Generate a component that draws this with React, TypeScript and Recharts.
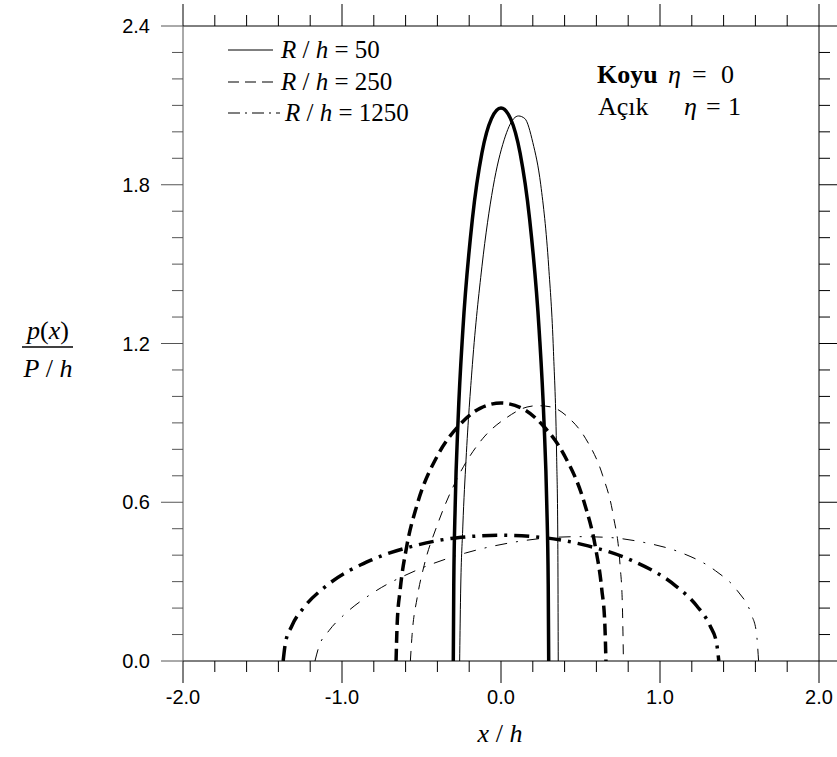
import React from "react";
import { Line, LineChart, XAxis, YAxis } from "recharts";

// tick positions
const xTicks = [-2.0, -1.8, -1.6, -1.4, -1.2, -1.0, -0.8, -0.6, -0.4, -0.2, 0.0, 0.2, 0.4, 0.6, 0.8, 1.0, 1.2, 1.4, 1.6, 1.8, 2.0];
const xMajor = [-2.0, -1.0, 0.0, 1.0, 2.0];
const yTicks = [0.0, 0.1, 0.2, 0.3, 0.4, 0.5, 0.6, 0.7, 0.8, 0.9, 1.0, 1.1, 1.2, 1.3, 1.4, 1.5, 1.6, 1.7, 1.8, 1.9, 2.0, 2.1, 2.2, 2.3, 2.4];
const yMajor = [0.0, 0.6, 1.2, 1.8, 2.4];

// R/h = 50
const thickSolid = [
  { x: -0.3, p: 0 }, { x: -0.297, p: 0.29 }, { x: -0.288, p: 0.59 }, { x: -0.27, p: 0.91 },
  { x: -0.24, p: 1.25 }, { x: -0.18, p: 1.67 }, { x: -0.12, p: 1.92 }, { x: -0.06, p: 2.05 },
  { x: 0, p: 2.09 }, { x: 0.06, p: 2.05 }, { x: 0.12, p: 1.92 }, { x: 0.18, p: 1.67 },
  { x: 0.24, p: 1.25 }, { x: 0.27, p: 0.91 }, { x: 0.288, p: 0.59 }, { x: 0.297, p: 0.29 }, { x: 0.3, p: 0 },
];
const thinSolid = [
  { x: -0.26, p: 0 }, { x: -0.255, p: 0.22 }, { x: -0.24, p: 0.51 }, { x: -0.22, p: 0.76 },
  { x: -0.18, p: 1.12 }, { x: -0.12, p: 1.49 }, { x: -0.05, p: 1.79 }, { x: 0.02, p: 1.97 },
  { x: 0.08, p: 2.05 }, { x: 0.11, p: 2.06 }, { x: 0.15, p: 2.05 }, { x: 0.2, p: 1.96 },
  { x: 0.25, p: 1.8 }, { x: 0.3, p: 1.49 }, { x: 0.33, p: 1.17 }, { x: 0.35, p: 0.77 },
  { x: 0.357, p: 0.48 }, { x: 0.36, p: 0 },
];

// R/h = 250
const thickDashed = [
  { x: -0.66, p: 0 }, { x: -0.653, p: 0.14 }, { x: -0.634, p: 0.27 }, { x: -0.594, p: 0.43 },
  { x: -0.528, p: 0.59 }, { x: -0.396, p: 0.78 }, { x: -0.264, p: 0.89 }, { x: -0.132, p: 0.955 },
  { x: 0, p: 0.975 }, { x: 0.132, p: 0.955 }, { x: 0.264, p: 0.89 }, { x: 0.396, p: 0.78 },
  { x: 0.528, p: 0.59 }, { x: 0.594, p: 0.43 }, { x: 0.634, p: 0.27 }, { x: 0.653, p: 0.14 }, { x: 0.66, p: 0 },
];
const thinDashed = [
  { x: -0.57, p: 0 }, { x: -0.559, p: 0.1 }, { x: -0.527, p: 0.24 }, { x: -0.484, p: 0.36 },
  { x: -0.397, p: 0.52 }, { x: -0.267, p: 0.7 }, { x: -0.116, p: 0.84 }, { x: 0.036, p: 0.92 },
  { x: 0.164, p: 0.96 }, { x: 0.23, p: 0.965 }, { x: 0.316, p: 0.96 }, { x: 0.424, p: 0.92 },
  { x: 0.533, p: 0.84 }, { x: 0.64, p: 0.7 }, { x: 0.706, p: 0.55 }, { x: 0.749, p: 0.36 },
  { x: 0.763, p: 0.22 }, { x: 0.77, p: 0 },
];

// R/h = 1250
const thickDashDot = [
  { x: -1.37, p: 0 }, { x: -1.356, p: 0.067 }, { x: -1.315, p: 0.133 }, { x: -1.233, p: 0.207 },
  { x: -1.096, p: 0.285 }, { x: -0.822, p: 0.38 }, { x: -0.548, p: 0.435 }, { x: -0.274, p: 0.466 },
  { x: 0, p: 0.475 }, { x: 0.274, p: 0.466 }, { x: 0.548, p: 0.435 }, { x: 0.822, p: 0.38 },
  { x: 1.096, p: 0.285 }, { x: 1.233, p: 0.207 }, { x: 1.315, p: 0.133 }, { x: 1.356, p: 0.067 }, { x: 1.37, p: 0 },
];
const thinDashDot = [
  { x: -1.17, p: 0 }, { x: -1.147, p: 0.051 }, { x: -1.08, p: 0.116 }, { x: -0.99, p: 0.173 },
  { x: -0.81, p: 0.256 }, { x: -0.539, p: 0.341 }, { x: -0.224, p: 0.408 }, { x: 0.091, p: 0.45 },
  { x: 0.359, p: 0.468 }, { x: 0.496, p: 0.47 }, { x: 0.674, p: 0.467 }, { x: 0.9, p: 0.448 },
  { x: 1.126, p: 0.411 }, { x: 1.349, p: 0.341 }, { x: 1.486, p: 0.266 }, { x: 1.575, p: 0.175 },
  { x: 1.606, p: 0.109 }, { x: 1.62, p: 0 },
];

const W = 837;
const H = 757;
// axes are 1px thick, so the plot box is 183..819 x 26..661
const margin = { top: 25, right: 17, bottom: 95, left: 182 };
const MAJOR = 22;
const MINOR = 11;
const tickFont = "'Liberation Sans', Arial, sans-serif";
const serif = "'Liberation Serif', 'Times New Roman', serif";

const isMajor = (v: number, list: number[]) => list.some((m) => Math.abs(m - v) < 1e-6);

function BottomTick({ x, y, payload }: any) {
  const major = isMajor(payload.value, xMajor);
  return (
    <g>
      <line x1={x} x2={x} y1={y} y2={y + (major ? MAJOR : MINOR)} stroke="#000" />
      {major && (
        <text x={x} y={y + 43} textAnchor="middle" fontFamily={tickFont} fontSize={20} fill="#000">
          {payload.value.toFixed(1)}
        </text>
      )}
    </g>
  );
}

function TopTick({ x, y, payload }: any) {
  const major = isMajor(payload.value, xMajor);
  return <line x1={x} x2={x} y1={y} y2={y - (major ? MAJOR : MINOR)} stroke="#000" />;
}

function LeftTick({ x, y, payload }: any) {
  const major = isMajor(payload.value, yMajor);
  return (
    <g>
      <line x1={x} x2={x - (major ? MAJOR : MINOR)} y1={y} y2={y} stroke="#555" />
      {major && (
        <text x={x - 33} y={y + 7} textAnchor="end" fontFamily={tickFont} fontSize={20} fill="#000">
          {payload.value.toFixed(1)}
        </text>
      )}
    </g>
  );
}

function RightTick({ x, y, payload }: any) {
  const major = isMajor(payload.value, yMajor);
  return <line x1={x} x2={x + (major ? MAJOR : MINOR)} y1={y} y2={y} stroke="#000" />;
}

function LegendLabel({ x, y, value }: { x: number; y: number; value: string }) {
  return (
    <text x={x} y={y}>
      <tspan fontStyle="italic">R</tspan> / <tspan fontStyle="italic">h</tspan> = {value}
    </text>
  );
}

function Overlay() {
  return (
    <svg width={W} height={H} style={{ position: "absolute", left: 0, top: 0, pointerEvents: "none" }}>
      <g fontFamily={serif} fontSize={25} fill="#000">
        {/* legend */}
        <line x1={228} x2={273} y1={50} y2={50} stroke="#000" strokeWidth={1} />
        <LegendLabel x={281} y={58} value="50" />
        <line x1={228} x2={273} y1={82} y2={82} stroke="#000" strokeWidth={1.2} strokeDasharray="11 6" />
        <LegendLabel x={281} y={90} value="250" />
        <line x1={228} x2={280} y1={113} y2={113} stroke="#000" strokeWidth={1.2} strokeDasharray="12 5 2 5" />
        <LegendLabel x={285} y={121} value="1250" />

        {/* annotation */}
        <g fontSize={26}>
          <text x={597} y={83}>
            <tspan fontWeight="bold">Koyu</tspan>
            <tspan x={668} fontStyle="italic">η</tspan>
            <tspan x={692}>=</tspan>
            <tspan x={721}>0</tspan>
          </text>
          <text x={598} y={115}>
            Açık
            <tspan x={684} fontStyle="italic">η</tspan>
            <tspan x={706}>=</tspan>
            <tspan x={728}>1</tspan>
          </text>
        </g>

        {/* axis titles */}
        <text x={500} y={742} textAnchor="middle" fontSize={26}>
          <tspan fontStyle="italic">x</tspan> / <tspan fontStyle="italic">h</tspan>
        </text>
        <text x={48} y={339} textAnchor="middle" fontSize={26}>
          <tspan fontStyle="italic">p</tspan>(<tspan fontStyle="italic">x</tspan>)
        </text>
        <line x1={22} x2={73} y1={347} y2={347} stroke="#000" strokeWidth={1.5} />
        <text x={48} y={377} textAnchor="middle" fontSize={26}>
          <tspan fontStyle="italic">P</tspan> / <tspan fontStyle="italic">h</tspan>
        </text>
      </g>
    </svg>
  );
}

export default function App() {
  return (
    <div style={{ position: "relative", width: W, height: H, background: "#fff" }}>
      <style>{"body{margin:0;}"}</style>
      <LineChart width={W} height={H} margin={margin}>
        <XAxis
          xAxisId="b"
          dataKey="x"
          type="number"
          domain={[-2, 2]}
          ticks={xTicks}
          interval={0}
          orientation="bottom"
          height={1}
          tickSize={0}
          tickMargin={0}
          tick={<BottomTick />}
          axisLine={{ stroke: "#000" }}
          tickLine={false}
          allowDataOverflow
        />
        <XAxis
          xAxisId="t"
          dataKey="x"
          type="number"
          domain={[-2, 2]}
          ticks={xTicks}
          interval={0}
          orientation="top"
          height={1}
          tickSize={0}
          tickMargin={0}
          tick={<TopTick />}
          axisLine={{ stroke: "#000" }}
          tickLine={false}
          allowDataOverflow
        />
        <YAxis
          yAxisId="l"
          type="number"
          domain={[0, 2.4]}
          ticks={yTicks}
          interval={0}
          orientation="left"
          width={1}
          tickSize={0}
          tickMargin={0}
          tick={<LeftTick />}
          axisLine={{ stroke: "#555" }}
          tickLine={false}
          allowDataOverflow
        />
        <YAxis
          yAxisId="r"
          type="number"
          domain={[0, 2.4]}
          ticks={yTicks}
          interval={0}
          orientation="right"
          width={1}
          tickSize={0}
          tickMargin={0}
          tick={<RightTick />}
          axisLine={{ stroke: "#000" }}
          tickLine={false}
          allowDataOverflow
        />
        <Line xAxisId="b" yAxisId="l" data={thickSolid} dataKey="p" type="monotone" stroke="#000" strokeWidth={3.5} dot={false} isAnimationActive={false} />
        <Line xAxisId="b" yAxisId="l" data={thinSolid} dataKey="p" type="monotone" stroke="#000" strokeWidth={1} dot={false} isAnimationActive={false} />
        <Line xAxisId="b" yAxisId="l" data={thickDashed} dataKey="p" type="monotone" stroke="#000" strokeWidth={3.5} strokeDasharray="12 6" dot={false} isAnimationActive={false} />
        <Line xAxisId="b" yAxisId="l" data={thinDashed} dataKey="p" type="monotone" stroke="#000" strokeWidth={1} strokeDasharray="10 8" dot={false} isAnimationActive={false} />
        <Line xAxisId="b" yAxisId="l" data={thickDashDot} dataKey="p" type="monotone" stroke="#000" strokeWidth={3.5} strokeDasharray="15 7 3 7" dot={false} isAnimationActive={false} />
        <Line xAxisId="b" yAxisId="l" data={thinDashDot} dataKey="p" type="monotone" stroke="#000" strokeWidth={1} strokeDasharray="12 9 2 9" dot={false} isAnimationActive={false} />
      </LineChart>
      <Overlay />
    </div>
  );
}
